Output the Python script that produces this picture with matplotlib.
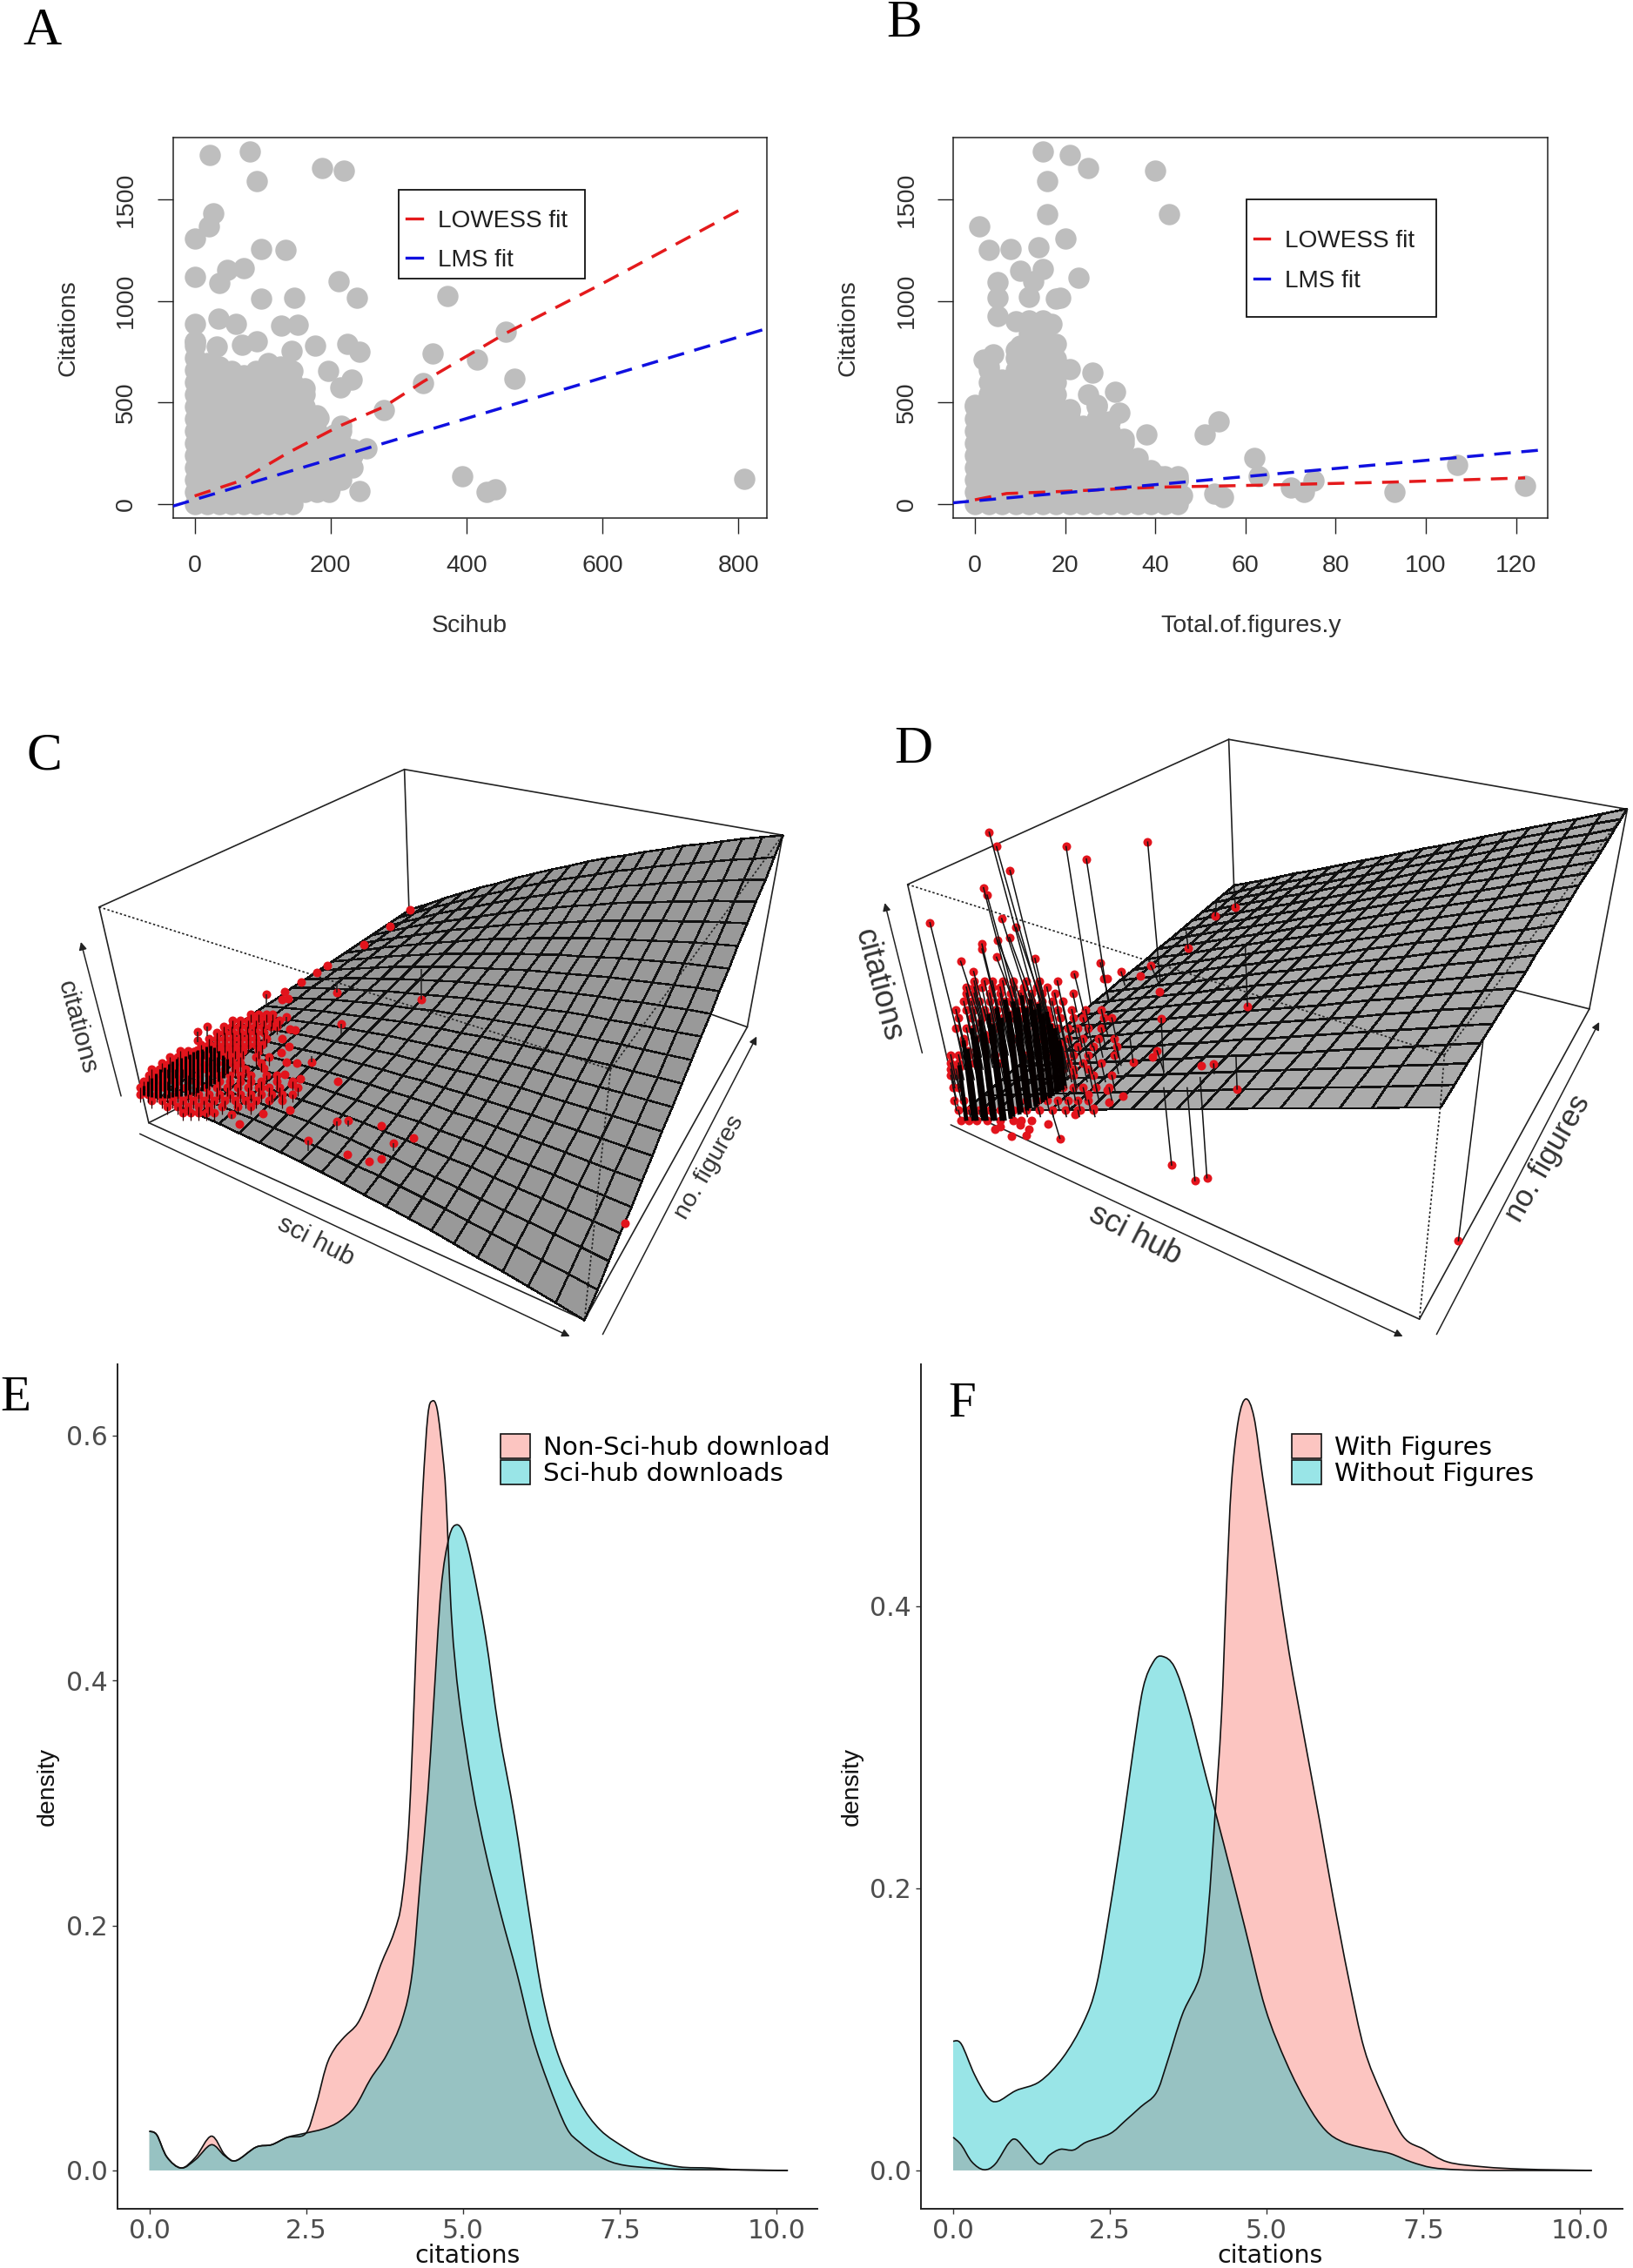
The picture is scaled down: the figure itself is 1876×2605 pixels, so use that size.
import numpy as np
import matplotlib
matplotlib.use('Agg')
import matplotlib.pyplot as plt
from matplotlib.colors import ListedColormap, to_rgba
from matplotlib.patches import Patch, Rectangle, PathPatch
from matplotlib.path import Path
from matplotlib.transforms import Affine2D

W, H = 1876, 2605
plt.rcParams['font.family'] = ['Liberation Sans', 'DejaVu Sans']

# ---------- Panel A ----------
A_x = [22,81,91,187,220,27,21,0,98,134,0,48,72,36,212,98,146,239,372,0,35,61,127,152,0,32,69,91,142,177,224,243,458,350,415,471,336,197,231,214,278,253,243,394,430,443,809,182,205,228,199,213]
A_y = [1720,1735,1591,1652,1643,1429,1367,1307,1257,1251,1118,1153,1159,1087,1099,1012,1016,1014,1026,887,914,887,879,881,800,775,783,800,754,779,789,748,850,742,711,617,596,654,613,575,461,274,64,139,62,71,123,426,343,239,79,141]
A_col_x = [0,18,36,54,72,90,108,126,144,162,180,198,216,232]
A_col_low = [0,0,0,0,0,0,0,0,0,20,60,60,100,180]
A_col_top = [800,696,675,654,634,655,696,675,654,570,436,322,384,270]
A_levels = [0,60,120,180,240,300,360,420,480,540,600,660,720,780]
A_low_x = [0,67,136,213,278,336,458,597,800]
A_low_y = [40,114,250,384,478,602,841,1080,1444]
A_lms_x = [-32,253,836]
A_lms_y = [-10,274,858]

# ---------- Panel B ----------
B_x = [15,21,25,16,40,16,43,1,20,3,8,14,15,10,23,5,13,5,12,18,19,5,9,17,12,18,10,2,4,21,26,31,25,21,32,38,51,54,62,63,70,73,75,93,107,122,53,55,45,46,41]
B_y = [1735,1720,1652,1591,1643,1427,1427,1367,1307,1251,1257,1263,1157,1147,1116,1091,1095,1016,1020,1012,1016,925,900,887,883,790,779,713,738,665,646,551,540,457,451,343,343,405,229,139,83,62,114,58,191,91,52,35,114,42,135]
B_col_x = [0,3,6,9,12,15,18,21,24,27,30,33,36,39,42,45]
B_col_top = [488,675,612,758,903,903,716,467,384,488,405,322,228,166,135,135]
B_levels = [0,60,120,180,240,300,360,420,480,540,600,660,720,780,840,900]
B_low_x = [0,7,19,40,63,92,122]
B_low_y = [21,52,62,83,93,108,129]
B_lms_x = [-5,125.5]
B_lms_y = [6,266]

# ---------- Panel C (projected view coordinates) ----------
C_surface_corners = [(265,915),(1120,1475),(1500,295),(785,475)]
C_bow = -30
C_pts_x = [785,748,698,628,608,577,545,552,540,511,646,808,654,548,556,565,540,553,538,597,548,568,505,545,575,647,558,500,555,503,458,443,645,667,731,590,754,793,665,708,731,1197,378,397,378]
C_pts_y = [477,518,562,612,630,652,675,692,695,683,679,695,755,737,768,770,790,810,825,848,848,850,862,878,888,895,900,910,965,972,997,975,992,990,1002,1038,1044,1031,1072,1090,1082,1240,773,760,795]
C_pts_stem = [0,0,0,0,0,0,0,0,0,30,-25,-75,25,15,0,0,0,0,0,-15,0,0,0,0,0,0,0,0,0,0,0,10,20,15,0,25,20,0,0,0,0,0,25,25,0]
C_row_ys = [730,745,760,775,790,805,820,835,850,865,880,895,910,925,940,955,970]
C_row_xs = [[480,495,510,522],
            [445,460,475,490,505,520,535],
            [428,443,458,473,488,503,518,530],
            [415,430,445,460,475,490,505],
            [400,415,430,445,460,475,490,510],
            [385,400,415,430,445,460,475,490,502],
            [345,360,375,390,405,420,435,450,465,495],
            [325,340,355,370,385,400,415,430,445,460,490,515],
            [310,325,340,355,370,385,400,415,430,445,460,500],
            [290,305,320,335,350,365,380,395,410,430,450,470],
            [285,300,315,330,345,360,380,400,420,440,460,480,510,530],
            [275,290,305,320,340,360,380,400,420,440,460,480,500,530,560],
            [268,283,298,315,335,355,375,395,415,435,455,475,495,515,535,570],
            [268,283,300,320,340,360,380,400,420,440,460,480,500,520,540,560],
            [290,310,330,350,370,390,410,430,450,470,490,515,540],
            [320,340,360,380,400,425,455,480],
            [350,365,380,395,410]]
C_core_x = [275,283,291,299,307,315,323,331,339,347,355,363,371,379,387,395,403,411,419,427,435]
C_core_top = [905,895,885,875,865,860,852,846,840,836,832,828,822,818,815,810,808,812,820,830,840]
C_core_bot = [928,930,932,935,935,935,935,932,930,930,928,925,925,922,918,912,905,900,895,885,875]

# ---------- Panel D (projected view coordinates) ----------
D_surface_corners = [(283,965),(1197,958),(1557,232),(800,418)]
D_pts_x = [329,343,369,318,325,353,381,345,368,315,315,343,274,299,215,417,477,516,634,493,543,583,550,557,620,640,712,764,803,657,660,826,606,644,652,737,761,806,680,725,748,1232,465,372,400,405,388,442,340,350,495,505,530,560,587,557,520]
D_pts_y = [288,323,381,423,441,498,520,550,544,560,572,592,602,627,508,595,323,353,312,633,606,628,645,645,637,612,570,491,471,676,741,711,848,834,820,857,852,913,1098,1136,1129,1282,1033,1028,1025,1010,1000,998,1010,1005,975,965,960,945,930,915,925]
D_end_x = [430,440,440,395,400,420,440,410,430,360,360,400,325,335,280,440,525,558,658,510,560,590,550,557,620,655,708,766,800,657,665,822,600,644,665,737,762,804,665,710,735,1280,450,372,400,405,388,442,340,350,495,505,530,560,587,557,520]
D_end_y = [760,760,740,800,790,760,740,760,760,800,800,780,800,800,840,720,710,700,650,720,700,660,645,645,637,655,530,460,420,676,880,570,790,834,870,857,875,835,910,910,885,790,970,1028,1025,1010,1000,998,1010,1005,975,965,960,945,930,915,925]
D_row_ys = [650,665,680,700,720,740,765,790,810,830,850,865,880,910,940,965,990]
D_row_xs = [[300,320,335,355,375,400,425,460],
            [285,300,315,335,350,375,395,420,440],
            [285,300,330,350,370,390,410,430,455,490],
            [280,295,310,330,350,370,390,410,430,450,470],
            [265,285,300,320,340,360,380,400,420,440,460,488,515,545],
            [270,295,315,335,355,375,395,420,445,465,490,510,550,565],
            [265,285,300,345,400,440,460,480,500,520,545],
            [280,330,380,430,480,510,540,570],
            [470,500,530,575],
            [255,270,290,340,400,450,470,490,520,570],
            [255,270,300,350,480,510,545],
            [255,265,470,490,520],
            [255,265,490,530,565],
            [260,270,470,490,510,535,560],
            [262,280,400,420,440,460,480,500,520],
            [270,290,310,330,350,375,400,425,450,475,500,530],
            [275,290,305,325,350,375,390,410]]
D_row_stems = [180,170,160,150,130,120,100,80,60,60,50,45,40,30,25,15,0]
D_core_x = [272,280,288,296,304,312,320,328,336,344,352,360,368,376,384,392,400,408,416,424,432,440,448,456,464]
D_core_top = [860,800,820,770,790,750,780,735,760,720,745,700,730,705,720,690,720,700,725,710,735,730,760,770,800]
D_core_bot = [985,985,985,985,985,985,985,985,985,980,975,970,965,960,955,950,945,940,935,930,925,920,915,910,900]

# ---------- Panel E ----------
E_pink_x = [0,.12,.28,.51,.74,.99,1.2,1.38,1.7,1.95,2.2,2.49,2.65,2.82,2.95,3.11,3.32,3.49,3.69,3.9,4.03,4.15,4.28,4.36,4.44,4.51,4.59,4.68,4.73,4.82,4.94,5.15,5.36,5.61,5.86,6.11,6.36,6.65,6.86,7.19,7.6,8.44,9.27,10.18]
E_pink_y = [.032,.029,.011,.002,.011,.028,.013,.008,.019,.021,.027,.030,.052,.085,.099,.109,.120,.139,.168,.194,.222,.294,.464,.555,.616,.628,.621,.583,.550,.450,.384,.313,.260,.208,.161,.109,.071,.035,.023,.011,.004,.001,.0005,0]
E_cyan_x = [0,.12,.28,.51,.74,.99,1.2,1.38,1.7,1.95,2.2,2.45,2.78,3.03,3.28,3.53,3.78,4.03,4.19,4.32,4.44,4.53,4.65,4.78,4.9,5.02,5.15,5.36,5.57,5.82,6.06,6.27,6.52,6.86,7.19,7.6,7.94,8.44,8.93,9.43,10.18]
E_cyan_y = [.032,.029,.011,.002,.009,.021,.012,.008,.019,.021,.027,.030,.034,.040,.052,.075,.094,.123,.161,.237,.308,.379,.474,.517,.527,.519,.493,.436,.360,.289,.208,.142,.094,.056,.033,.018,.009,.003,.002,.0005,0]
E_labels = ['Non-Sci-hub download', 'Sci-hub downloads']
E_yticks = [0.0,0.2,0.4,0.6]

# ---------- Panel F ----------
F_pink_x = [0,.13,.3,.49,.67,.88,1.0,1.17,1.38,1.54,1.71,1.92,2.12,2.5,2.74,2.99,3.24,3.41,3.66,3.95,4.07,4.17,4.28,4.36,4.44,4.55,4.67,4.8,4.94,5.15,5.36,5.61,5.85,6.06,6.31,6.56,6.85,7.18,7.51,7.89,8.47,9.05,9.63,10.19]
F_pink_y = [.0235,.018,.006,.0005,.0045,.019,.022,.014,.0045,.011,.015,.0145,.020,.026,.035,.045,.055,.076,.111,.140,.185,.247,.322,.412,.487,.532,.547,.534,.491,.429,.367,.305,.247,.194,.136,.086,.053,.024,.015,.006,.0025,.001,.0004,0]
F_cyan_x = [0,.13,.34,.55,.71,1.0,1.38,1.75,2.08,2.29,2.5,2.7,2.87,3.03,3.2,3.34,3.53,3.74,4.03,4.32,4.65,4.98,5.32,5.65,5.94,6.23,6.64,6.97,7.31,7.64,8.05,8.63,10.19]
F_cyan_y = [.0917,.0896,.068,.052,.049,.0566,.063,.080,.105,.132,.185,.243,.297,.342,.361,.3645,.357,.330,.280,.231,.173,.115,.076,.047,.0285,.020,.015,.012,.006,.002,.0005,0,0]
F_labels = ['With Figures', 'Without Figures']
F_yticks = [0.0,0.2,0.4]
X_ticks = [0,2.5,5,7.5,10]

fig = plt.figure(figsize=(W/100, H/100), dpi=100, facecolor='white')
px = Affine2D().scale(1/W, -1/H).translate(0, 1) + fig.transFigure

def rect(l, t, r, b):
    return [l/W, 1-b/H, (r-l)/W, (b-t)/H]

SERIF = 'Liberation Serif'
for s, x, y, fs in [('A',48,51,44),('B',1039,42,44),('C',51,884,44),('D',1049,876,44),('E',18,1620,41),('F',1105,1627,41)]:
    fig.text(x/W, 1-y/H, s, family=SERIF, fontsize=fs, ha='center', va='baseline', color='black')

GREY = '#BEBEBE'
DOT = 310

def base_scatter(l, r, xlim, ylim, xticks, xlabel, ylx, xlabx):
    ax = fig.add_axes(rect(l, 157.5, r, 595))
    ax.set_xlim(*xlim); ax.set_ylim(*ylim)
    ax.set_xticks(xticks); ax.set_yticks([0,500,1000,1500])
    ax.tick_params(length=13, width=1, color='#222222', labelcolor='#303030', labelsize=20.5)
    ax.tick_params(axis='x', pad=17)
    ax.tick_params(axis='y', pad=16)
    for t in ax.get_yticklabels():
        t.set_rotation(90); t.set_va('center')
    for s in ax.spines.values():
        s.set_linewidth(1.1); s.set_color('#222222')
    fig.text(xlabx/W, 1-719/H, xlabel, fontsize=20.5, ha='center', va='center', color='#303030')
    fig.text(ylx/W, 1-377/H, 'Citations', fontsize=20.5, rotation=90, ha='center', va='center', color='#303030')
    return ax

def legend_box(l, t, r, b, hx0, hx1, tx, y1, y2):
    fig.add_artist(Rectangle((l, t), r-l, b-t, transform=px, fc='white', ec='#111111', lw=1.3, zorder=6))
    for y, c, lab in [(y1,'#E41A1C','LOWESS fit'),(y2,'#1010E0','LMS fit')]:
        fig.add_artist(plt.Line2D([hx0,hx1],[y,y], transform=px, color=c, lw=2.4, zorder=7))
        fig.text(tx/W, 1-(y+3)/H, lab, fontsize=20.2, va='center', ha='left', color='#202020', zorder=7)

# A
axA = base_scatter(198.5, 881, (-32.2,842), (-68.6,1806), [0,200,400,600,800], 'Scihub', 78, 539)
mx, my = [], []
for cx, lo, top in zip(A_col_x, A_col_low, A_col_top):
    ys = [v for v in A_levels if lo <= v <= top] + [top]
    mx += [cx]*len(ys); my += ys
axA.scatter(mx, my, s=DOT, c=GREY, lw=0, zorder=2)
axA.scatter(A_x, A_y, s=DOT, c=GREY, lw=0, zorder=2)
axA.plot(A_low_x, A_low_y, color='#E41A1C', lw=2.5, dashes=(5.5,3.5), zorder=3)
axA.plot(A_lms_x, A_lms_y, color='#1010E0', lw=2.5, dashes=(5.5,3.5), zorder=3)
legend_box(458, 218, 672, 320, 467, 485, 503, 251, 296)

# B
axB = base_scatter(1095, 1778, (-4.82,127), (-68.6,1806), [0,20,40,60,80,100,120], 'Total.of.figures.y', 974, 1437)
mx, my = [], []
for cx, top in zip(B_col_x, B_col_top):
    ys = [v for v in B_levels if v <= top] + [top]
    mx += [cx]*len(ys); my += ys
axB.scatter(mx, my, s=DOT, c=GREY, lw=0, zorder=2)
axB.scatter(B_x, B_y, s=DOT, c=GREY, lw=0, zorder=2)
axB.plot(B_low_x, B_low_y, color='#E41A1C', lw=2.5, dashes=(5.5,3.5), zorder=3)
axB.plot(B_lms_x, B_lms_y, color='#1010E0', lw=2.5, dashes=(5.5,3.5), zorder=3)
legend_box(1432, 229, 1650, 364, 1441, 1458, 1476, 274, 320)

# 3D-looking panels
def homography(c):
    (x0,y0),(x1,y1),(x2,y2),(x3,y3) = c
    dx1, dx2, sx = x1-x2, x3-x2, x0-x1+x2-x3
    dy1, dy2, sy = y1-y2, y3-y2, y0-y1+y2-y3
    g, h = np.linalg.solve([[dx1,dx2],[dy1,dy2]], [sx,sy])
    a, b, d, e = x1-x0+g*x1, x3-x0+h*x3, y1-y0+g*y1, y3-y0+h*y3
    def f(u, v):
        w = g*u+h*v+1
        return (a*u+b*v+x0)/w, (d*u+e*v+y0)/w
    return f

def surface(ax, corners, bow, color, persp, lw):
    u, v = np.meshgrid(np.linspace(0,1,21), np.linspace(0,1,21))
    f = homography(corners)
    Xh, Yh = f(u, v)
    c = np.array(corners, float)
    Xb = (1-u)*(1-v)*c[0,0]+u*(1-v)*c[1,0]+u*v*c[2,0]+(1-u)*v*c[3,0]
    Yb = (1-u)*(1-v)*c[0,1]+u*(1-v)*c[1,1]+u*v*c[2,1]+(1-u)*v*c[3,1]
    X = persp*Xh+(1-persp)*Xb
    Y = persp*Yh+(1-persp)*Yb + bow*4*u*(1-u)
    ax.pcolormesh(X, Y, np.zeros((20,20)), cmap=ListedColormap([color]), edgecolors='#111111', linewidth=lw, zorder=2, shading='flat')

def seg(ax, p, q, z=1, ls='-', lw=1.2, c='#222222'):
    ax.plot([p[0],q[0]],[p[1],q[1]], color=c, lw=lw, ls=ls, zorder=z, solid_capstyle='round')

def arrow(ax, tail, head):
    ax.annotate('', xy=head, xytext=tail, zorder=1,
                arrowprops=dict(arrowstyle='-|>', color='#222222', lw=1.1, mutation_scale=13, shrinkA=0, shrinkB=0))

PSIZE = 52
RED = '#E2141C'

# C
axC = fig.add_axes(rect(0,820,940,1560)); axC.set_xlim(0,1568); axC.set_ylim(1568,0); axC.axis('off')
tb, tr, tl, tf = (775,135),(1500,295),(190,470),(1170,865)
bl, bf, br = (285,995),(1120,1475),(1432,762)
for p,q in [(tb,tr),(tb,tl),(tl,bl),(tr,br),(tb,(787,600)),(bl,bf),(bf,br),(bl,(450,890)),(br,(1300,703))]:
    seg(axC,p,q,1)
surface(axC, C_surface_corners, C_bow, '#999999', 0.15, 1.05)
for p,q in [(tl,tf),(tf,tr),(tf,bf)]:
    seg(axC,p,q,3,ls=(0,(1.5,1.5)),lw=1.2)
arrow(axC,(232,930),(155,555)); arrow(axC,(268,1022),(1092,1515)); arrow(axC,(1155,1510),(1450,785))
axC.text(148,762,'citations',fontsize=21.5,rotation=-75,ha='center',va='center',color='#333333')
axC.text(605,1282,'sci hub',fontsize=21.5,rotation=-27,ha='center',va='center',color='#333333')
axC.text(1360,1103,'no. figures',fontsize=20.5,rotation=60,ha='center',va='center',color='#333333')
rx, ry = [], []
for y, xs in zip(C_row_ys, C_row_xs):
    rx += xs; ry += [y]*len(xs)
axC.vlines(rx, ry, [y+20 for y in ry], color='#300000', lw=0.9, zorder=5)
axC.vlines(C_pts_x, C_pts_y, [y+s for y,s in zip(C_pts_y,C_pts_stem)], color='#222222', lw=1.1, zorder=5)
axC.scatter(rx, ry, s=PSIZE, c=RED, lw=0, zorder=4)
axC.scatter(C_pts_x, C_pts_y, s=PSIZE, c=RED, lw=0, zorder=4)
axC.scatter(C_core_x, C_core_top, s=PSIZE, c=RED, lw=0, zorder=4)
axC.vlines(C_core_x, C_core_top, C_core_bot, color='#050000', lw=2.2, zorder=5)

# D
axD = fig.add_axes(rect(940,820,1876,1560)); axD.set_xlim(0,1568); axD.set_ylim(1568,0); axD.axis('off')
tb, tr, tl, tf = (790,62),(1557,232),(172,415),(1205,830)
bl, bf, br = (270,961),(1157,1473),(1484,718)
for p,q in [(tb,tr),(tb,tl),(tl,bl),(tr,br),(tb,(800,418)),(bl,bf),(bf,br),(br,(1340,672))]:
    seg(axD,p,q,1)
surface(axD, D_surface_corners, 0, '#ABABAB', 1.0, 1.2)
for p,q in [(tl,tf),(tf,tr)]:
    seg(axD,p,q,3,ls=(0,(1.5,1.5)),lw=1.2)
seg(axD,tf,(1197,958),3,ls=(0,(1.5,1.5)),lw=1.2)
seg(axD,(1197,958),bf,1,ls=(0,(1.5,1.5)),lw=1.2)
arrow(axD,(200,825),(128,460)); arrow(axD,(255,1000),(1125,1515)); arrow(axD,(1190,1510),(1503,750))
axD.text(115,660,'citations',fontsize=26,rotation=-75,ha='center',va='center',color='#333333')
axD.text(610,1268,'sci hub',fontsize=26,rotation=-27,ha='center',va='center',color='#333333')
axD.text(1405,1082,'no. figures',fontsize=25,rotation=60,ha='center',va='center',color='#333333')
for xp, yp, xe, ye in zip(D_pts_x, D_pts_y, D_end_x, D_end_y):
    axD.plot([xp,xe],[yp,ye],color='#111111',lw=1.1,zorder=5)
axD.scatter(D_pts_x, D_pts_y, s=PSIZE, c=RED, lw=0, zorder=4)
for y, xs, st in zip(D_row_ys, D_row_xs, D_row_stems):
    for x in xs:
        L = min(st, 45) if x > 470 else st
        axD.plot([x, x+0.17*L],[y, y+L],color='#111111',lw=1.1,zorder=5)
    axD.scatter(xs, [y]*len(xs), s=PSIZE, c=RED, lw=0, zorder=4)
axD.scatter(D_core_x, D_core_top, s=PSIZE, c=RED, lw=0, zorder=4)
for x, t, b in zip(D_core_x, D_core_top, D_core_bot):
    axD.plot([x, x+0.1*(b-t)],[t, b],color='#050000',lw=3.5,zorder=6)

# E / F
PINK, CYAN = '#F8766D', '#00BFC4'

def curve_path(x, y, close=False):
    p = np.column_stack([x, y]); n = len(p)
    verts = [p[0]]; codes = [Path.MOVETO]
    for i in range(n-1):
        p0, p1, p2, p3 = p[max(i-1,0)], p[i], p[i+1], p[min(i+2,n-1)]
        verts += [p1+(p2-p0)/6, p2-(p3-p1)/6, p2]
        codes += [Path.CURVE4]*3
    if close:
        verts += [(x[-1],0),(x[0],0),p[0]]
        codes += [Path.LINETO,Path.LINETO,Path.CLOSEPOLY]
    return Path(verts, codes)

def density(l, r, xlim, ylim, yticks, px_, py_, cx_, cy_, labels, xlabx, ylabx, lx):
    ax = fig.add_axes(rect(l,1567,r,2537))
    ax.set_xlim(*xlim); ax.set_ylim(*ylim)
    for xs, ys, col, al, z in [(px_,py_,PINK,.42,2),(cx_,cy_,CYAN,.40,3)]:
        ax.add_patch(PathPatch(curve_path(xs,ys,True), fc=to_rgba(col,al), ec='none', lw=0, zorder=z))
        ax.add_patch(PathPatch(curve_path(xs,ys), fc='none', ec='#111111', lw=1.2, zorder=4))
    ax.spines['top'].set_visible(False); ax.spines['right'].set_visible(False)
    for s in ('left','bottom'):
        ax.spines[s].set_linewidth(1.4); ax.spines[s].set_color('#222222')
    ax.set_xticks(X_ticks); ax.set_xticklabels(['0.0','2.5','5.0','7.5','10.0'])
    ax.set_yticks(yticks); ax.set_yticklabels([f'{v:.1f}' for v in yticks])
    ax.tick_params(length=4, width=1, color='#333333', labelcolor='#4D4D4D', labelsize=21.5, pad=4, labelfontfamily='DejaVu Sans')
    fig.text(xlabx/W, 1-2591/H, 'citations', family='DejaVu Sans', fontsize=20.5, ha='center', va='center', color='#111111')
    fig.text(ylabx/W, 1-2052/H, 'density', fontsize=20.5, rotation=90, ha='center', va='center', color='#111111')
    hs = [Patch(facecolor=to_rgba(PINK,.42), edgecolor='#111111', lw=1.2),
          Patch(facecolor=to_rgba(CYAN,.40), edgecolor='#111111', lw=1.2)]
    ax.legend(hs, labels, loc='upper left', bbox_to_anchor=(lx, 1-1647/H), bbox_transform=fig.transFigure,
              frameon=False, borderpad=0, borderaxespad=0, prop={'family':'DejaVu Sans','size':21.2},
              handlelength=1.15, handleheight=1.1, handletextpad=0.5, labelspacing=0.0)
    return ax

density(135,939,(-0.507,10.65),(-0.0313,0.658),E_yticks,E_pink_x,E_pink_y,E_cyan_x,E_cyan_y,E_labels,537,55,575/W)
density(1058,1864,(-0.514,10.68),(-0.0272,0.5716),F_yticks,F_pink_x,F_pink_y,F_cyan_x,F_cyan_y,F_labels,1459,979,1484/W)

fig.savefig('out.png', dpi=100, facecolor='white')
